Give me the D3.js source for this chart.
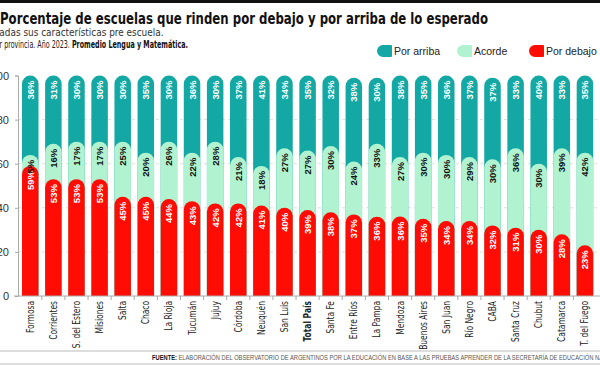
<!DOCTYPE html>
<html>
<head>
<meta charset="utf-8">
<script src="https://cdn.jsdelivr.net/npm/d3@7"></script>
<style>
  html, body { margin: 0; padding: 0; background: #fff; }
  svg { display: block; }
</style>
</head>
<body>
<div id="chart"></div>
<script>
// datos (porcentaje de escuelas)
const provincias = ["Formosa", "Corrientes", "S. del Estero", "Misiones", "Salta", "Chaco", "La Rioja",
  "Tucumán", "Jujuy", "Córdoba", "Neuquén", "San Luis", "Total País", "Santa Fe", "Entre Ríos",
  "La Pampa", "Mendoza", "Buenos Aires", "San Juan", "Río Negro", "CABA", "Santa Cruz", "Chubut",
  "Catamarca", "T. del Fuego"];
const porDebajo = [59, 53, 53, 53, 45, 45, 44, 43, 42, 42, 41, 40, 39, 38, 37, 36, 36, 35, 34, 34, 32, 31, 30, 28, 23];
const acorde    = [5, 16, 17, 17, 25, 20, 26, 22, 28, 21, 18, 27, 27, 30, 24, 33, 27, 30, 30, 29, 30, 36, 30, 39, 42];
const porArriba = [36, 31, 30, 30, 30, 35, 30, 36, 30, 37, 41, 34, 35, 32, 38, 30, 38, 35, 36, 37, 37, 33, 40, 33, 35];
const yTicks = [0, 20, 40, 60, 80, 100];

const series = [
  { key: "arriba", label: "Por arriba", color: "#14a8a5", text: "#fff" },
  { key: "acorde", label: "Acorde", color: "#b1f3d0", text: "#111" },
  { key: "debajo", label: "Por debajo", color: "#ff0d04", text: "#fff" }
];

const W = 600, H = 365;
const narrow = "'Liberation Sans Narrow', 'DejaVu Sans Condensed', sans-serif";
const sans = "'Liberation Sans', Arial, sans-serif";

const rows = provincias.map((p, i) => ({ prov: p, debajo: porDebajo[i], acorde: acorde[i], arriba: porArriba[i] }));
const stacked = d3.stack().keys(["debajo", "acorde", "arriba"])(rows);

const svg = d3.select("#chart").append("svg").attr("width", W).attr("height", H);

// barra negra superior
svg.append("rect").attr("x", 0).attr("y", 0).attr("width", W).attr("height", 3).attr("fill", "#111");

// títulos
svg.append("text").attr("x", 0).attr("y", 24)
  .attr("font-family", narrow).attr("font-weight", "bold").attr("font-size", 16.5).attr("fill", "#111")
  .attr("textLength", 488).attr("lengthAdjust", "spacingAndGlyphs")
  .text("Porcentaje de escuelas que rinden por debajo y por arriba de lo esperado");

svg.append("text").attr("x", -7.5).attr("y", 36)
  .attr("font-family", narrow).attr("font-size", 10.5).attr("fill", "#333")
  .attr("textLength", 171).attr("lengthAdjust", "spacingAndGlyphs")
  .text("Dadas sus características pre escuela.");

const sub2 = svg.append("text").attr("x", -8).attr("y", 48)
  .attr("font-family", narrow).attr("font-size", 10).attr("fill", "#222")
  .attr("textLength", 196).attr("lengthAdjust", "spacingAndGlyphs");
sub2.append("tspan").text("Por provincia. Año 2023. ");
sub2.append("tspan").attr("font-weight", "bold").attr("fill", "#111").text("Promedio Lengua y Matemática.");

// leyenda
const legendX = [377, 457, 529];
const lg = svg.append("g").selectAll("g").data(series).join("g")
  .attr("transform", (d, i) => `translate(${legendX[i]},45)`);
lg.append("path").attr("d", "M14,0 H6 A6,6 0 0 0 6,12 H14 Q15,12 15,11 V1 Q15,0 14,0 Z").attr("fill", d => d.color);
lg.append("text").attr("x", 17).attr("y", 10).attr("font-family", sans).attr("font-size", 10.5)
  .attr("fill", "#222").text(d => d.label);

// escalas
const x = d3.scaleBand().domain(provincias).range([18.7, 596.5]).paddingInner(0.286).paddingOuter(0.143);
const y = d3.scaleLinear().domain([0, 100]).range([296, 75.5]).clamp(true);

// grilla
svg.append("g").selectAll("line").data(yTicks.filter(t => t > 0 && t < 100)).join("line")
  .attr("x1", 18).attr("x2", W).attr("y1", d => y(d)).attr("y2", d => y(d))
  .attr("stroke", "#d6d6d6").attr("stroke-width", 0.8).attr("stroke-dasharray", "3,3");

// eje Y
const yAxis = svg.append("g").attr("transform", "translate(18,0)")
  .call(d3.axisLeft(y).tickValues(yTicks).tickSize(3).tickPadding(6));
yAxis.select(".domain").attr("stroke", "#aaa");
yAxis.selectAll(".tick line").attr("stroke", "#aaa");
yAxis.selectAll(".tick text").attr("font-family", sans).attr("font-size", 11).attr("fill", "#333");

// barras con tope redondeado, de atrás hacia adelante
const bw = x.bandwidth();
const barPath = (x0, yTop, yBot) => {
  const r = bw / 2;
  return `M${x0},${yBot} V${yTop + r} A${r},${r} 0 0 1 ${x0 + bw},${yTop + r} V${yBot} Z`;
};
const layers = stacked.slice().reverse();
layers.forEach(layer => {
  const s = series.find(d => d.key === layer.key);
  svg.append("g").selectAll("path").data(layer).join("path")
    .attr("d", d => barPath(x(d.data.prov), y(d[1]), y(0)))
    .attr("fill", s.color);
});

// etiquetas de valores
stacked.forEach(layer => {
  const s = series.find(d => d.key === layer.key);
  svg.append("g").selectAll("text").data(layer).join("text")
    .attr("transform", d => `translate(${x(d.data.prov) + bw / 2},${y(d[1]) + 5}) rotate(-90)`)
    .attr("text-anchor", "end").attr("dominant-baseline", "central")
    .attr("font-family", sans).attr("font-weight", "bold").attr("font-size", 9.5)
    .attr("fill", s.text)
    .text(d => d.data[layer.key] + "%");
});

// eje X
svg.append("line").attr("x1", 14).attr("x2", W).attr("y1", y(0)).attr("y2", y(0))
  .attr("stroke", "#aaa").attr("stroke-width", 1);
svg.append("g").selectAll("line").data(provincias.slice(1)).join("line")
  .attr("x1", d => x(d) - x.step() * x.paddingInner() / 2).attr("x2", d => x(d) - x.step() * x.paddingInner() / 2)
  .attr("y1", y(0)).attr("y2", y(0) + 4).attr("stroke", "#aaa");
const xLabels = svg.append("g").selectAll("text").data(provincias).join("text")
  .attr("transform", d => `translate(${x(d) + bw / 2},${y(0) + 5}) rotate(-90)`)
  .attr("text-anchor", "end").attr("dominant-baseline", "central")
  .attr("font-family", narrow).attr("font-size", 10).attr("fill", "#222")
  .attr("font-weight", d => d === "Total País" ? "bold" : "normal")
  .text(d => d);
// "Formosa" mide ~32px en el original; letras más altas y comprimidas
const fLen = xLabels.filter(d => d === "Formosa").node().getComputedTextLength();
if (fLen > 0) {
  const k = 32 / fLen;
  xLabels.each(function() {
    const len = this.getComputedTextLength() * k;
    d3.select(this).attr("font-size", 10 * k * 1.2)
      .attr("textLength", len).attr("lengthAdjust", "spacingAndGlyphs");
  });
}

// pie
svg.append("line").attr("x1", 0).attr("x2", W).attr("y1", 351).attr("y2", 351).attr("stroke", "#bbb");
svg.append("line").attr("x1", 0).attr("x2", W).attr("y1", 364).attr("y2", 364).attr("stroke", "#bbb");
const foot = svg.append("text").attr("x", 152).attr("y", 360)
  .attr("font-family", sans).attr("font-size", 6.6).attr("fill", "#555")
  .attr("textLength", 474).attr("lengthAdjust", "spacingAndGlyphs");
foot.append("tspan").attr("font-weight", "bold").attr("fill", "#111").text("FUENTE: ");
foot.append("tspan").text("ELABORACIÓN DEL OBSERVATORIO DE ARGENTINOS POR LA EDUCACIÓN EN BASE A LAS PRUEBAS APRENDER DE LA SECRETARÍA DE EDUCACIÓN NACIONAL.");
</script>
</body>
</html>
